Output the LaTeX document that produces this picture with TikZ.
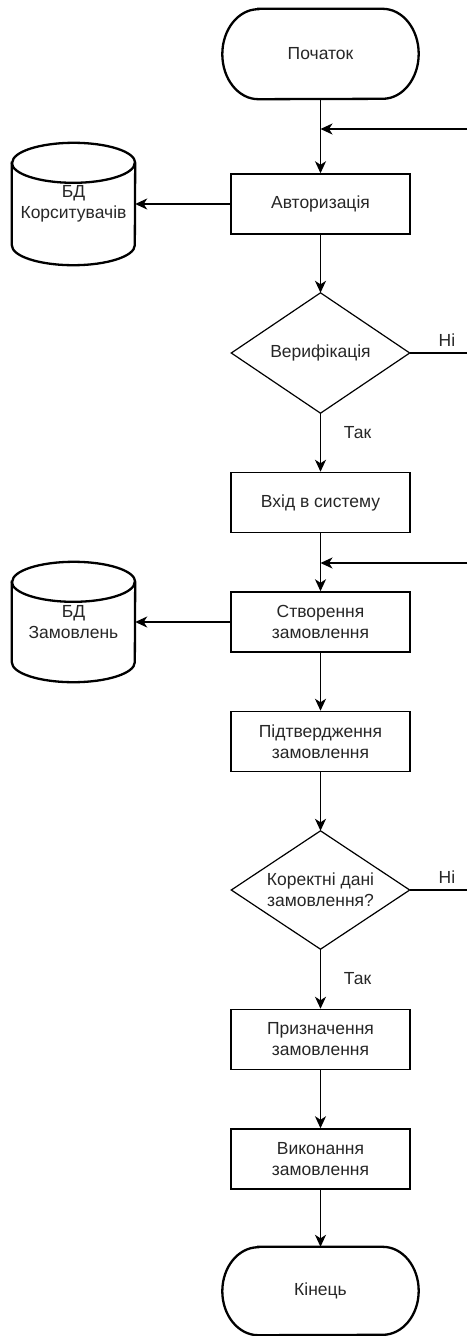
\documentclass[tikz,border=0pt]{standalone}
\usepackage{fontspec}
\setmainfont{Liberation Sans}
\usetikzlibrary{arrows.meta}
\begin{document}
\begin{tikzpicture}[x=1pt,y=1pt,
  txt/.style={font=\fontsize{17.5}{21}\selectfont, text=black!85, align=center, inner sep=0pt},
  procbox/.style={txt, draw, line width=1.5pt, minimum width=179pt, minimum height=60pt},
  conn/.style={line width=1.5pt, -{Stealth[length=12pt,width=11pt,inset=3.5pt]}},
  plainline/.style={line width=1.5pt},
  heavyline/.style={line width=2.3pt},
  diamondline/.style={line width=1.2pt},
  lbl/.style={txt}
]
\useasboundingbox (0,0) rectangle (467,-1336);

% terminals
\node[txt, minimum width=196pt, minimum height=90pt] (start) at (320.5,-54) {Початок};
\draw[heavyline] ([xshift=36pt]start.north west) -- ([xshift=-36pt]start.north east)
  arc[start angle=90,end angle=-90,x radius=36pt,y radius=45pt]
  -- ([xshift=36pt]start.south west)
  arc[start angle=270,end angle=90,x radius=36pt,y radius=45pt] -- cycle;

\node[txt, minimum width=196pt, minimum height=88pt] (finish) at (320.5,-1291) {Кінець};
\draw[heavyline] ([xshift=36pt]finish.north west) -- ([xshift=-36pt]finish.north east)
  arc[start angle=90,end angle=-90,x radius=36pt,y radius=44pt]
  -- ([xshift=36pt]finish.south west)
  arc[start angle=270,end angle=90,x radius=36pt,y radius=44pt] -- cycle;

% process boxes
\node[procbox] (auth) at (320.5,-204) {Авторизація};
\node[procbox] (login) at (320.5,-502.5) {Вхід в систему};
\node[procbox] (create) at (320.5,-622) {Створення\\замовлення};
\node[procbox] (confirm) at (320.5,-741.5) {Підтвердження\\замовлення};
\node[procbox] (assign) at (320.5,-1039.5) {Призначення\\замовлення};
\node[procbox] (exec) at (320.5,-1159) {Виконання\\замовлення};

% decisions
\node[txt, minimum width=178pt, minimum height=120pt] (ver) at (320.5,-353) {Верифікація};
\draw[diamondline] (ver.north) -- (ver.east) -- (ver.south) -- (ver.west) -- cycle;
\node[txt, minimum width=178pt, minimum height=118pt] (check) at (320.5,-890) {Коректні дані\\замовлення?};
\draw[diamondline] (check.north) -- (check.east) -- (check.south) -- (check.west) -- cycle;

% databases
\node[txt, minimum width=123pt, minimum height=122pt] (db1) at (73.5,-204) {БД\\Корситувачів};
\draw[heavyline] ([yshift=-20pt]db1.north west) -- ([yshift=20pt]db1.south west)
  arc[start angle=180,end angle=360,x radius=61.5pt,y radius=20pt]
  -- ([yshift=-20pt]db1.north east)
  arc[start angle=0,end angle=180,x radius=61.5pt,y radius=20pt] -- cycle;
\draw[heavyline] ([yshift=-20pt]db1.north west) arc[start angle=180,end angle=360,x radius=61.5pt,y radius=20pt];

\node[txt, minimum width=123pt, minimum height=120pt] (db2) at (73.5,-622) {БД\\Замовлень};
\draw[heavyline] ([yshift=-20pt]db2.north west) -- ([yshift=20pt]db2.south west)
  arc[start angle=180,end angle=360,x radius=61.5pt,y radius=20pt]
  -- ([yshift=-20pt]db2.north east)
  arc[start angle=0,end angle=180,x radius=61.5pt,y radius=20pt] -- cycle;
\draw[heavyline] ([yshift=-20pt]db2.north west) arc[start angle=180,end angle=360,x radius=61.5pt,y radius=20pt];

% loose ends
\coordinate (r1) at (467,-129);
\coordinate (j1) at (320.5,-129);
\coordinate (r2) at (467,-353);
\coordinate (r3) at (467,-563);
\coordinate (j3) at (320.5,-563);
\coordinate (r4) at (467,-890);

% connectors
\draw[conn] (start.south) -- (auth.north);
\draw[conn] (r1) -- (j1);
\draw[conn] (auth.west) -- (db1.east);
\draw[conn] (auth.south) -- (ver.north);
\draw[plainline] (ver.east) -- (r2) node[lbl, pos=0.65, yshift=13pt] {Ні};
\draw[conn] (ver.south) -- (login.north) node[lbl, pos=0.33, xshift=37pt] {Так};
\draw[conn] (login.south) -- (create.north);
\draw[conn] (r3) -- (j3);
\draw[conn] (create.west) -- (db2.east);
\draw[conn] (create.south) -- (confirm.north);
\draw[conn] (confirm.south) -- (check.north);
\draw[plainline] (check.east) -- (r4) node[lbl, pos=0.65, yshift=13pt] {Ні};
\draw[conn] (check.south) -- (assign.north) node[lbl, pos=0.5, xshift=37pt] {Так};
\draw[conn] (assign.south) -- (exec.north);
\draw[conn] (exec.south) -- (finish.north);
\end{tikzpicture}
\end{document}
